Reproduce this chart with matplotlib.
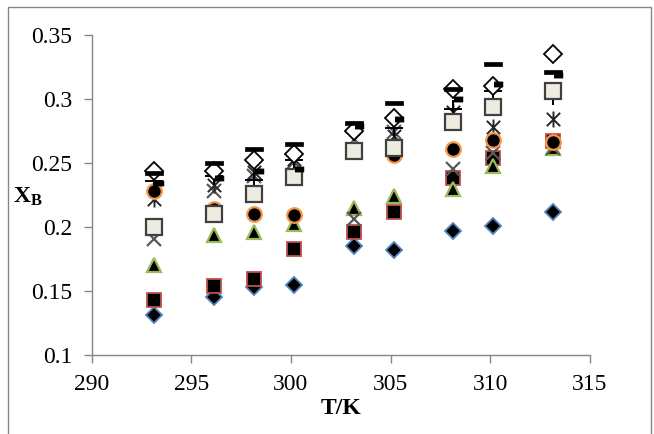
import numpy as np
import matplotlib
matplotlib.use('Agg')
import matplotlib.pyplot as plt
from matplotlib.path import Path
from matplotlib.patches import Rectangle

T = [293.15, 296.15, 298.15, 300.15, 303.15, 305.15, 308.15, 310.15, 313.15]

x_diamond  = [0.131, 0.145, 0.153, 0.155, 0.185, 0.182, 0.197, 0.201, 0.212]
x_square   = [0.143, 0.154, 0.159, 0.183, 0.196, 0.212, 0.238, 0.254, 0.267]
x_triangle = [0.170, 0.194, 0.196, 0.202, 0.215, 0.224, 0.230, 0.248, 0.262]
x_cross    = [0.191, 0.228, 0.240, 0.251, 0.206, 0.274, 0.245, 0.258, 0.262]
x_star     = [0.222, 0.233, 0.243, 0.253, 0.269, 0.271, 0.290, 0.278, 0.284]
x_circle   = [0.228, 0.214, 0.210, 0.209, 0.261, 0.256, 0.261, 0.268, 0.266]
x_plus     = [0.236, 0.240, 0.237, 0.252, 0.274, 0.277, 0.292, 0.306, 0.302]
x_beige    = [0.200, 0.210, 0.226, 0.239, 0.259, 0.262, 0.282, 0.294, 0.306]
x_open     = [0.244, 0.244, 0.252, 0.257, 0.275, 0.285, 0.308, 0.310, 0.335]
x_longdash = [0.242, 0.250, 0.261, 0.265, 0.281, 0.297, 0.308, 0.327, 0.321]
x_shortdash= [0.234, 0.238, 0.244, 0.245, 0.279, 0.284, 0.300, 0.312, 0.319]

font_size = 17
plt.rcParams['font.family'] = ['Liberation Serif', 'DejaVu Serif']
plt.rcParams['mathtext.fontset'] = 'custom'
plt.rcParams['mathtext.rm'] = 'Liberation Serif'
plt.rcParams['mathtext.bf'] = 'Liberation Serif:bold'

# custom excel-like markers
star_marker = Path([(-1, -1), (1, 1), (-1, 1), (1, -1), (0, -1.2), (0, 1.2)],
                   [Path.MOVETO, Path.LINETO, Path.MOVETO, Path.LINETO, Path.MOVETO, Path.LINETO])
long_dash = [(-1, -0.27), (1, -0.27), (1, 0.27), (-1, 0.27), (-1, -0.27)]
short_dash = [(0.05, -0.3), (1, -0.3), (1, 0.3), (0.05, 0.3), (0.05, -0.3), (-1, 0), (-1, 0)]

fig = plt.figure(figsize=(6.54, 4.34), dpi=100)
ax = fig.add_axes([0.14, 0.182, 0.762, 0.7375])

ax.plot(T, x_diamond, ls='none', marker='D', ms=8.5, mfc='black', mec='#4F81BD', mew=1.3)
ax.plot(T, x_square, ls='none', marker='s', ms=10.5, mfc='black', mec='#C0504D', mew=1.3)
ax.plot(T, x_triangle, ls='none', marker='^', ms=10.5, mfc='black', mec='#9BBB59', mew=1.6)
ax.plot(T, x_cross, ls='none', marker='x', ms=10.5, mec='#595959', mew=1.6)
ax.plot(T, x_star, ls='none', marker=star_marker, ms=11.5, mec='#262626', mew=1.4)
ax.plot(T, x_circle, ls='none', marker='o', ms=10.5, mfc='black', mec='#F79646', mew=1.6)
ax.plot(T, x_plus, ls='none', marker='+', ms=13, mec='black', mew=1.4)
ax.plot(T, x_beige, ls='none', marker='s', ms=11.5, mfc='#EEECE1', mec='#404040', mew=1.6)
ax.plot(T, x_open, ls='none', marker='D', ms=9, mfc='white', mec='black', mew=1.3)
ax.plot(T, x_longdash, ls='none', marker=long_dash, ms=12.5, mfc='black', mec='black', mew=0.5)
ax.plot(T, x_shortdash, ls='none', marker=short_dash, ms=14, mfc='black', mec='none')

ax.set_xlim(290, 315)
ax.set_ylim(0.1, 0.35)
ax.set_xticks([290, 295, 300, 305, 310, 315])
ax.set_yticks([0.1, 0.15, 0.2, 0.25, 0.3, 0.35])
ax.set_yticklabels(['0.1', '0.15', '0.2', '0.25', '0.3', '0.35'])

for side in ['top', 'right']:
  ax.spines[side].set_visible(False)
for side in ['left', 'bottom']:
  ax.spines[side].set_color('#868686')
  ax.spines[side].set_linewidth(1.0)

ax.tick_params(axis='both', which='major', direction='out', length=6, width=1.0,
               color='#868686', labelsize=font_size, labelcolor='black')
ax.tick_params(axis='x', pad=8)
ax.tick_params(axis='y', pad=8)

ax.set_xlabel('T/K', fontsize=font_size, fontweight='bold', labelpad=2)
fig.text(28 / 654, 1 - 197 / 434, r'$\mathbf{X_B}$', fontsize=font_size, ha='center', va='center')

# chart area border
fig.patches.append(Rectangle((8 / 654, -0.05), 643 / 654, 1 - 7 / 434 + 0.05, transform=fig.transFigure,
                             fill=False, edgecolor='#868686', lw=1.0))

fig.savefig('out.png', dpi=100)
